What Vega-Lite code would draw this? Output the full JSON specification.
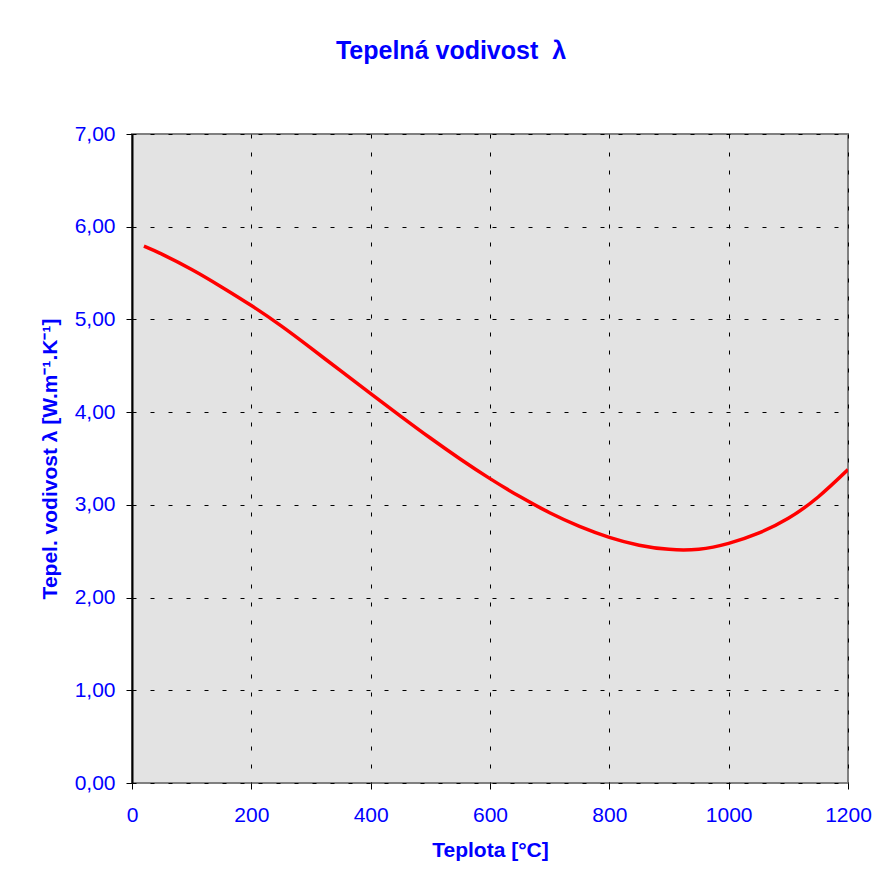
{
  "$schema": "https://vega.github.io/schema/vega-lite/v6.json",
  "width": 716,
  "height": 649,
  "autosize": "none",
  "padding": {"left": 132, "top": 134, "right": 37, "bottom": 100},
  "background": "white",
  "title": {
    "text": "Tepelná vodivost \u00a0λ",
    "font": "Liberation Sans",
    "fontSize": 25,
    "fontWeight": "bold",
    "color": "#0000ff",
    "anchor": "middle",
    "dx": -39,
    "offset": 59
  },
  "config": {
    "view": {"fill": "#e3e3e3", "stroke": "#808080", "strokeWidth": 2},
    "axis": {
      "labelFont": "Liberation Sans",
      "labelFontSize": 21,
      "labelColor": "#0000ff",
      "titleFont": "Liberation Sans",
      "titleFontSize": 21,
      "titleFontWeight": "bold",
      "titleColor": "#0000ff",
      "gridColor": "#000000",
      "gridDash": [4, 14],
      "gridWidth": 1,
      "gridOpacity": 1,
      "domainColor": "#000000",
      "domainWidth": 2,
      "tickColor": "#000000",
      "tickWidth": 1
    }
  },
  "data": {
    "values": [
      {"t": 20, "lambda": 5.79},
      {"t": 50, "lambda": 5.704},
      {"t": 100, "lambda": 5.539},
      {"t": 150, "lambda": 5.351},
      {"t": 200, "lambda": 5.15},
      {"t": 250, "lambda": 4.93},
      {"t": 300, "lambda": 4.69},
      {"t": 350, "lambda": 4.444},
      {"t": 400, "lambda": 4.2},
      {"t": 450, "lambda": 3.958},
      {"t": 500, "lambda": 3.721},
      {"t": 550, "lambda": 3.495},
      {"t": 600, "lambda": 3.283},
      {"t": 650, "lambda": 3.089},
      {"t": 700, "lambda": 2.915},
      {"t": 750, "lambda": 2.768},
      {"t": 800, "lambda": 2.65},
      {"t": 850, "lambda": 2.565},
      {"t": 900, "lambda": 2.52},
      {"t": 950, "lambda": 2.522},
      {"t": 1000, "lambda": 2.585},
      {"t": 1050, "lambda": 2.695},
      {"t": 1100, "lambda": 2.855},
      {"t": 1150, "lambda": 3.085},
      {"t": 1200, "lambda": 3.38}
    ]
  },
  "mark": {"type": "line", "color": "#ff0000", "strokeWidth": 3.5, "interpolate": "natural", "clip": true},
  "encoding": {
    "x": {
      "field": "t",
      "type": "quantitative",
      "scale": {"domain": [0, 1200], "nice": false, "zero": false},
      "axis": {
        "title": "Teplota [°C]",
        "values": [0, 200, 400, 600, 800, 1000, 1200],
        "format": "d",
        "domain": false,
        "tickSize": 6,
        "labelPadding": 15,
        "titlePadding": 14,
        "labelFlush": false
      }
    },
    "y": {
      "field": "lambda",
      "type": "quantitative",
      "scale": {"domain": [0, 7], "nice": false, "zero": false},
      "axis": {
        "title": "Tepel. vodivost λ [W.m⁻¹.K⁻¹]",
        "values": [0, 1, 2, 3, 4, 5, 6, 7],
        "labelExpr": "replace(format(datum.value, '.2f'), '.', ',')",
        "tickSize": 6,
        "labelPadding": 11,
        "titlePadding": 14,
        "labelFlush": false
      }
    }
  }
}
